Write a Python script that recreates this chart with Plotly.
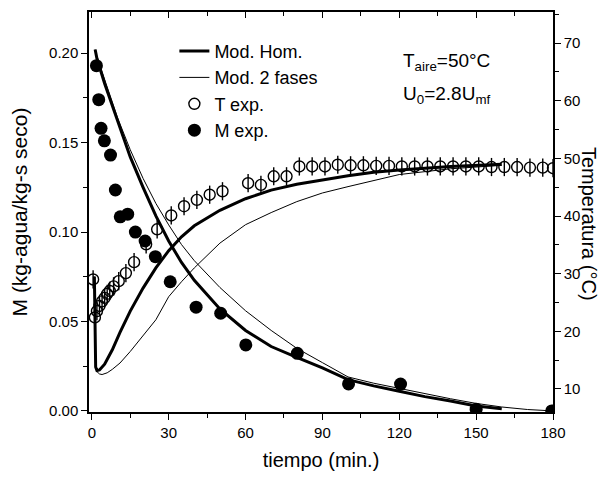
import plotly.graph_objects as go

# ---------------- data ----------------
# Model curves, moisture M (kg-agua/kg-s seco) vs time (min)
t_hom_M = [1.3, 1.5, 2, 5, 10, 15, 20, 25, 30, 35, 40, 50, 60, 70, 80, 90, 100, 110, 120, 130, 140, 150, 160]
M_hom = [0.202, 0.200, 0.197, 0.183, 0.162, 0.142, 0.125, 0.109, 0.095, 0.083, 0.073, 0.057, 0.045, 0.036, 0.030, 0.024, 0.0175, 0.014, 0.011, 0.008, 0.0055, 0.0028, 0.0012]

t_2f_M = [1.3, 1.5, 2, 5, 10, 15, 20, 25, 30, 35, 40, 50, 60, 70, 80, 90, 100, 110, 120, 130, 140, 150, 160, 170, 180]
M_2f = [0.202, 0.200, 0.198, 0.185, 0.164, 0.146, 0.130, 0.116, 0.104, 0.093, 0.084, 0.069, 0.056, 0.045, 0.035, 0.027, 0.019, 0.0155, 0.0125, 0.0095, 0.0068, 0.0042, 0.0022, 0.0008, 0.0]

# Model curves, bed temperature (°C) vs time (min)
t_hom_T = [1.0, 1.2, 1.5, 2, 3, 5, 8, 11, 15, 20, 25, 30, 35, 40, 50, 60, 70, 80, 90, 100, 110, 120, 140, 160]
T_hom = [29.5, 20.0, 13.8, 13.2, 13.3, 14.3, 16.8, 19.8, 23.5, 27.5, 31.0, 34.0, 36.4, 38.3, 41.0, 43.0, 44.5, 45.5, 46.3, 47.0, 47.6, 48.0, 48.6, 49.0]

t_2f_T = [1.0, 1.2, 1.5, 2, 3, 4, 6, 8, 11, 15, 20, 25, 30, 35, 40, 50, 60, 70, 80, 90, 100, 110, 120, 140, 160]
T_2f = [29.5, 20.0, 13.8, 13.0, 12.6, 12.5, 12.8, 13.4, 14.5, 16.5, 19.3, 22.0, 26.0, 28.6, 31.0, 35.3, 38.5, 40.6, 42.5, 44.0, 45.1, 46.1, 47.2, 48.2, 48.8]

# Experimental temperature
t_Texp = [0.5, 1.2, 2.0, 3.0, 4.0, 5.0, 6.0, 7.0, 8.5, 10.5, 13.3, 16.5, 21.2, 25.5, 31, 36, 41, 46, 51, 61, 66, 71, 76, 81, 86, 91, 96,
          101, 106, 111, 116, 121, 126, 131, 136, 141, 146, 151, 156, 161, 166, 171, 176, 180]
T_exp = [29.0, 22.4, 23.5, 24.4, 25.2, 25.8, 26.5, 27.0, 27.8, 28.7, 30.1, 32.0, 35.1, 37.7, 40.1, 41.7, 42.8, 43.7, 44.3, 45.7, 45.4, 46.9, 46.9, 48.6, 48.6, 48.6, 48.9,
         48.8, 48.8, 48.7, 48.7, 48.6, 48.6, 48.6, 48.6, 48.6, 48.6, 48.6, 48.5, 48.5, 48.5, 48.4, 48.4, 48.3]

# Experimental moisture
t_Mexp = [1.8, 2.7, 3.6, 4.9, 7.3, 9.2, 11.1, 14.0, 17.0, 20.8, 24.8, 30.6, 40.7, 50.3, 60.1, 80.2, 100.2, 120.5, 150, 179.5]
M_exp = [0.193, 0.174, 0.158, 0.151, 0.143, 0.1235, 0.1085, 0.110, 0.100, 0.095, 0.0862, 0.0722, 0.058, 0.0546, 0.0369, 0.0322, 0.0151, 0.0150, 0.001, 0.0]

x_ticks = [0, 30, 60, 90, 120, 150, 180]
yM_ticks = [0.00, 0.05, 0.10, 0.15, 0.20]
yT_ticks = [10, 20, 30, 40, 50, 60, 70]

FONT = "Arial, 'Liberation Sans', sans-serif"

fig = go.Figure()
fig.add_trace(go.Scatter(x=t_hom_M, y=M_hom, mode="lines", name="Mod. Hom.",
                         line=dict(color="black", width=3), legendgroup="hom"))
fig.add_trace(go.Scatter(x=t_2f_M, y=M_2f, mode="lines", name="Mod. 2 fases",
                         line=dict(color="black", width=1), legendgroup="2f"))
fig.add_trace(go.Scatter(x=t_hom_T, y=T_hom, mode="lines", name="Mod. Hom.", showlegend=False,
                         line=dict(color="black", width=3), legendgroup="hom", xaxis="x2", yaxis="y2"))
fig.add_trace(go.Scatter(x=t_2f_T, y=T_2f, mode="lines", name="Mod. 2 fases", showlegend=False,
                         line=dict(color="black", width=1), legendgroup="2f", xaxis="x2", yaxis="y2"))
fig.add_trace(go.Scatter(x=t_Texp, y=T_exp, mode="markers", name="T exp.", legendgroup="texp",
                         marker=dict(symbol="circle-open", size=11, color="black", line=dict(width=1.4)),
                         xaxis="x2", yaxis="y2"))
fig.add_trace(go.Scatter(x=t_Texp, y=T_exp, mode="markers", name="T exp.", legendgroup="texp", showlegend=False,
                         marker=dict(symbol="line-ns-open", size=13, color="black", line=dict(width=1.4, color="black")),
                         xaxis="x2", yaxis="y2"))
fig.add_trace(go.Scatter(x=t_Mexp, y=M_exp, mode="markers", name="M exp.",
                         marker=dict(symbol="circle", size=13, color="black")))

axis_common = dict(showgrid=False, zeroline=False, showline=True, linecolor="black", linewidth=1.5,
                   ticks="outside", ticklen=6, tickwidth=1.3, tickcolor="black",
                   tickfont=dict(family=FONT, size=15, color="black"))

X_RANGE = [-1.1, 180]

# the page body adds an 8 px margin, so the figure is 8 px smaller than the window
fig.update_layout(
    width=602, height=472,
    margin=dict(l=78, r=57, t=4, b=68),
    paper_bgcolor="white", plot_bgcolor="white",
    font=dict(family=FONT, color="black"),
    showlegend=True,
    legend=dict(x=0.184, y=0.948, xanchor="left", yanchor="top", bgcolor="rgba(0,0,0,0)",
                font=dict(family=FONT, size=18, color="black"), tracegroupgap=0),
    xaxis=dict(range=X_RANGE, tickvals=x_ticks, ticktext=[str(v) for v in x_ticks],
               minor=dict(ticks="outside", dtick=15, tick0=0, ticklen=4, tickcolor="black"),
               title=dict(text="tiempo (min.)", font=dict(family=FONT, size=20), standoff=13),
               **axis_common),
    xaxis2=dict(range=X_RANGE, overlaying="x", side="top", showgrid=False, zeroline=False,
                showline=True, linecolor="black", linewidth=1.5, ticks="inside", ticklen=6, tickwidth=1.3,
                tickcolor="black", tickvals=x_ticks, showticklabels=False,
                minor=dict(ticks="inside", dtick=15, tick0=0, ticklen=4, tickcolor="black")),
    yaxis=dict(range=[-0.0006, 0.223], tickvals=yM_ticks, ticktext=["%.2f" % v for v in yM_ticks],
               minor=dict(ticks="outside", dtick=0.025, tick0=0, ticklen=4, tickcolor="black"),
               title=dict(text="M (kg-agua/kg-s seco)", font=dict(family=FONT, size=21), standoff=22),
               **axis_common),
    yaxis2=dict(range=[6, 75.4], overlaying="y", side="right", anchor="x",
                tickvals=yT_ticks, ticktext=[str(v) for v in yT_ticks],
                minor=dict(ticks="outside", dtick=5, tick0=0, ticklen=4, tickcolor="black"),
                **axis_common),
)

fig.add_annotation(text="Temperatura (°C)", textangle=90, xref="paper", yref="paper",
                   x=1.079, y=0.471, xanchor="center", yanchor="middle", showarrow=False,
                   font=dict(family=FONT, size=20, color="black"))
fig.add_annotation(text="T<sub>aire</sub>=50°C", xref="paper", yref="paper", x=0.672, y=0.875,
                   xanchor="left", yanchor="middle", showarrow=False,
                   font=dict(family=FONT, size=19, color="black"))
fig.add_annotation(text="U<sub>0</sub>=2.8U<sub>mf</sub>", xref="paper", yref="paper", x=0.672, y=0.792,
                   xanchor="left", yanchor="middle", showarrow=False,
                   font=dict(family=FONT, size=19, color="black"))

fig.write_html("out.html")
